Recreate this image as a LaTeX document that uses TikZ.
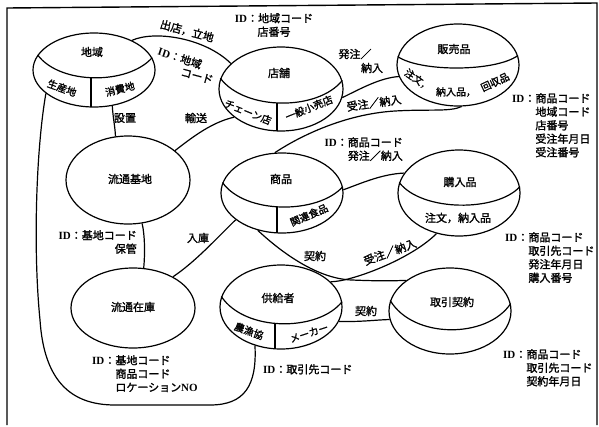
\documentclass[tikz,border=0pt]{standalone}
\usepackage{fontspec}
\newfontfamily\jp{Noto Sans CJK JP}[FakeBold=1.5]
\newfontfamily\lat{Liberation Serif}
\usetikzlibrary{shapes.geometric}
\newcommand\IDt{{\lat\bfseries ID}：}
\newcommand\ind{\hphantom{\IDt}}
\begin{document}
\begin{tikzpicture}[x=1pt,y=-1pt,
  ent/.style={ellipse,draw,line width=1.2pt,inner sep=0pt},
  ln/.style={line width=1.2pt},
  txt/.style={font=\jp\fontsize{11}{13.5}\selectfont,inner sep=0pt},
  sec/.style={font=\jp\fontsize{10}{12}\selectfont,inner sep=0pt}]
\useasboundingbox (0,0) rectangle (599,426);
\draw[line width=1.4pt] (7,425) -- (7,8) -- (597,3) -- (597,425);

% entities
\node[ent,minimum width=122pt,minimum height=74pt] (E1) at (94,70) {};
\node[ent,minimum width=124pt,minimum height=84pt] (E2) at (281,89) {};
\node[ent,minimum width=122pt,minimum height=82pt] (E3) at (458,65) {};
\node[ent,minimum width=124pt,minimum height=88pt] (E4) at (128,180) {};
\node[ent,minimum width=122pt,minimum height=80pt] (E5) at (282,193) {};
\node[ent,minimum width=122pt,minimum height=86pt] (E6) at (459,193) {};
\node[ent,minimum width=124pt,minimum height=80pt] (E7) at (133,308) {};
\node[ent,minimum width=122pt,minimum height=84pt] (E8) at (281,307) {};
\node[ent,minimum width=122pt,minimum height=86pt] (E9) at (450,311) {};

% dividers
\draw[ln] (E1.165) .. controls (60,85) and (128,85) .. (E1.12);
\draw[ln] (91,78) -- (91,106.9);
\draw[ln] (E2.170) .. controls (245,111) and (318,111) .. (E2.8);
\draw[ln] (277,103) -- (277,130.9);
\draw[ln] (E3.172) .. controls (420,72) and (495,72) .. (E3.9);
\draw[ln] (E5.170) .. controls (245,214.5) and (318,214.5) .. (E5.6);
\draw[ln] (277,207) -- (277,232.9);
\draw[ln] (E6.170) .. controls (422,212) and (497,212) .. (E6.6);
\draw[ln] (E8.170) .. controls (245,332) and (318,332) .. (E8.5);
\draw[ln] (275,324) -- (275,348.8);
\draw[ln] (E9.170) .. controls (413,339) and (487,339) .. (E9.7);

% titles
\node[txt] (t1) at (92,52) {地域};
\node[txt] (t2) at (279,73) {店舗};
\node[txt] (t3) at (454,49) {販売品};
\node[txt] (t4) at (130,179) {流通基地};
\node[txt] (t5) at (281,179) {商品};
\node[txt] (t6) at (460,182) {購入品};
\node[txt] (t7) at (133,307) {流通在庫};
\node[txt] (t8) at (278,298) {供給者};
\node[txt] (t9) at (452,302) {取引契約};

% section labels
\node[sec,rotate=-20] (s1) at (62,88) {生産地};
\node[sec,rotate=14] (s2) at (120,89) {消費地};
\node[sec,rotate=-22] (s3) at (248,112) {チェーン店};
\node[sec,rotate=22] (s4) at (309,108) {一般小売店};
\node[sec,rotate=-35] (s5) at (418,80) {注文，};
\node[sec] (s6) at (456,92) {納入品，};
\node[sec,rotate=25] (s7) at (495,82) {回収品};
\node[sec,rotate=23] (s8) at (309,215) {関連食品};
\node[txt] (s9) at (458,218) {注文，納入品};
\node[sec,rotate=-20] (s10) at (249,331) {農漁協};
\node[sec,rotate=18] (s11) at (309,333) {メーカー};

% connectors
\draw[ln] (E1.38) .. controls (155,30) and (205,38) .. (E2.153);
\draw[ln] (E1.206) .. controls (36,150) and (33,250) .. (40,320)
  .. controls (44,380) and (70,405) .. (115,405) -- (210,405)
  .. controls (245,405) and (257,385) .. (E8.236);
\draw[ln] (E1.297) .. controls (113,118) and (115,126) .. (E4.106);
\draw[ln] (E4.32) .. controls (195,135) and (213,122) .. (E2.211);
\draw[ln] (E2.352) .. controls (362,88) and (380,78) .. (E3.191);
\draw[ln] (E5.100) .. controls (300,136) and (345,114) .. (395,111)
  .. controls (430,109) and (450,112) .. (E3.275);
\draw[ln] (E5.3) .. controls (362,183) and (382,174) .. (E6.160);
\draw[ln] (E4.288) .. controls (145,236) and (145,254) .. (E7.75);
\draw[ln] (E5.210) .. controls (215,240) and (195,262) .. (E7.38);
\draw[ln] (E5.237) .. controls (282,253) and (318,279) .. (352,280)
  .. controls (375,281) and (392,281) .. (E9.145);
\draw[ln] (E8.27) .. controls (350,282) and (410,260) .. (E6.241);
\draw[ln] (E8.346) .. controls (360,322) and (375,320) .. (E9.188);

% connector labels
\node[txt,rotate=-15] (c1) at (187,31) {出店，立地};
\node[txt,rotate=-18] (c2) at (180,58) {\IDt 地域};
\node[txt,rotate=-15] (c3) at (197,76) {コード};
\node[txt,align=center,anchor=north] (c4) at (274,13) {\IDt 地域コード\\店番号};
\node[txt] (c5) at (125,118) {設置};
\node[txt] (c6) at (196,118) {輸送};
\node[txt] (c7) at (355,54) {発注／};
\node[txt] (c8) at (372,68) {納入};
\node[txt,rotate=8] (c9) at (374,103) {受注／納入};
\node[txt,align=left,anchor=north west] (c10) at (512,93)
  {\IDt 商品コード\\\ind 地域コード\\\ind 店番号\\\ind 受注年月日\\\ind 受注番号};
\node[txt,align=right,anchor=north east] (c11) at (403,137) {\IDt 商品コード\\発注／納入};
\node[txt,align=right,anchor=north east] (c12) at (137,230) {\IDt 基地コード\\保管};
\node[txt] (c13) at (198,238) {入庫};
\node[txt] (c14) at (315,256) {契約};
\node[txt,rotate=20] (c15) at (390,252) {受注／納入};
\node[txt] (c16) at (366,311) {契約};
\node[txt,align=left,anchor=north west] (c17) at (505,232)
  {\IDt 商品コード\\\ind 取引先コード\\\ind 発注年月日\\\ind 購入番号};
\node[txt,align=left,anchor=north west] (c18) at (503,349)
  {\IDt 商品コード\\\ind 取引先コード\\\ind 契約年月日};
\node[txt,align=left,anchor=north west] (c19) at (92,355)
  {\IDt 基地コード\\\ind 商品コード\\\ind ロケーション{\lat\bfseries NO}};
\node[txt,anchor=north west] (c20) at (263,364) {\IDt 取引先コード};
\end{tikzpicture}
\end{document}
